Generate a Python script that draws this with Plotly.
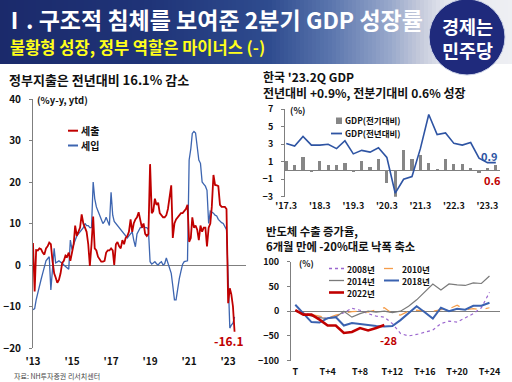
import plotly.graph_objects as go
import pandas as pd

W, H = 512, 382
FONT = "Noto Sans CJK KR"
RED = "#c00000"
BLUE = "#3d65b0"
GRAY = "#7f7f7f"

# ---------------- Left chart: 세출 / 세입 (%y-y, ytd), monthly Jan-2013 .. May-2023
spend = [
    5.3, -6.4, 3.6, 3.5, 4.0, 3.8, 3.0, 2.5, 4.0, 4.5, 5.4, 5.0,        # 2013
    1.0, -2.0, -3.0, -4.3, -3.6, -2.0, 0.5, 1.0, 2.3, 2.0, 3.0, 1.0,    # 2014
    3.0, 5.0, 9.5, 7.0, 8.0, 9.0, 12.2, 10.0, 9.0, 8.0, 5.0, -0.2,      # 2015
    5.0, 11.7, 4.0, 3.5, 2.0, 1.5, 0.8, 0.8, 1.0, 3.0, 3.5, 3.5,        # 2016
    4.0, 3.5, 0.0, 5.0, 5.5, 4.5, 4.0, 6.0, 5.0, 6.5, 7.0, 8.0,         # 2017
    11.0, 8.0, 10.0, 11.0, 11.5, 12.7, 11.0, 9.0, 10.0, 7.5, 7.0, 7.5,  # 2018
    24.3, 12.5, 13.0, 16.0, 14.5, 15.0, 12.5, 12.0, 11.5, 11.5, 12.0, 13.5,  # 2019
    16.5, 19.2, 6.5, 10.0, 11.0, 11.5, 12.0, 12.5, 12.5, 13.0, 13.5, 14.5,   # 2020
    5.6, 6.5, 11.5, 9.0, 9.5, 8.5, 6.0, 9.5, 8.0, 9.0, 9.0, 4.5,        # 2021
    9.0, 10.0, 14.0, 21.7, 19.3, 19.2, 19.0, 14.5, 14.0, 14.0, 14.0, 13.5,   # 2022
    -9.2, -5.6, -7.0, -10.0, -16.1,                                     # 2023
]
revenue = [
    -10.8, -10.5, -8.4, -6.5, -5.0, -3.5, -2.0, -0.4, 1.0, 1.5, 2.0, -6.0,   # 2013
    0.0, 4.0, 0.5, 0.8, 1.0, 0.7, 0.5, 0.0, -0.3, -0.7, -1.0, 6.0,      # 2014
    3.7, 5.0, 6.0, 7.0, 7.5, 8.0, 8.5, 9.0, 10.0, 9.5, 9.5, 9.0,        # 2015
    9.0, 20.0, 16.0, 14.0, 13.0, 12.0, 11.0, 10.0, 10.5, 11.5, 10.5, 9.5,    # 2016
    17.5, 12.0, 10.5, 10.0, 9.5, 9.0, 8.5, 8.0, 7.5, 7.0, 6.5, 7.0,     # 2017
    7.5, 8.0, 6.0, 4.4, 7.5, 8.5, 9.0, 9.0, 9.5, 9.0, 9.0, 8.5,         # 2018
    0.8, 0.2, 0.5, 0.8, 0.3, 0.0, 0.5, 0.8, 0.0, 0.3, 1.7, 0.5,         # 2019
    -0.5, -2.0, -5.0, -8.4, -8.4, -5.6, -3.3, -1.5, 0.2, 0.8, 1.0, 1.0, # 2020
    25.3, 28.0, 31.7, 32.2, 31.8, 28.5, 25.3, 24.5, 20.0, 19.5, 19.0, 18.0,  # 2021
    10.0, 13.0, 12.8, 12.5, 12.0, 11.8, 11.0, 10.5, 10.2, 10.0, 9.3, 8.5,    # 2022
    -3.0, -15.2, -14.5, -14.0, -12.5,                                   # 2023
]
months = pd.date_range("2013-01-01", periods=len(spend), freq="MS")
left_tickvals = ["2013-01-01", "2015-01-01", "2017-01-01", "2019-01-01", "2021-01-01", "2023-01-01"]
left_ticktext = ["'13", "'15", "'17", "'19", "'21", "'23"]

# ---------------- Top right: GDP (quarterly, 2017Q1 .. 2023Q2)
gdp_qoq = [1.1, 0.6, 1.5, -0.2, 1.1, 0.6, 0.6, 0.8, -0.15, 1.1, 0.45, 1.3,
           -1.4, -3.0, 2.3, 1.3, 1.8, 0.85, 0.2, 1.35, 0.7, 0.75, 0.25, -0.3, 0.3, 0.6]
gdp_yoy = [3.1, 2.8, 3.9, 2.9, 2.9, 3.0, 2.5, 3.4, 1.9, 2.3, 2.1, 2.6,
           1.5, -2.6, -1.0, -0.7, 2.5, 6.4, 4.1, 4.3, 3.1, 2.9, 3.2, 1.4, 0.9, 0.9]
quarters = list(range(len(gdp_qoq)))
gdp_tickvals = [0, 4, 8, 12, 16, 20, 24]
gdp_ticktext = ["'17.3", "'18.3", "'19.3", "'20.3", "'21.3", "'22.3", "'23.3"]

# ---------------- Bottom right: semiconductor exports growth (%)
s2008 = [0, -3, -8, -12, -15, -10, -3, 6, 2, -5, -10, -12, -25, -45, -50, -47, -42, -38, -25, -20, -22, -14, -5, 7, 38]
s2010 = [0, -3, -6, -10, -14, -8, -4, -1, 0, -2, 3, 7, -5, -8, 0, 2, 0, 0, 3, 5, 12, 3, 5, 3, 7]
s2014 = [0, -5, -10, -13, -15, -12, 0, -12, -5, 0, -2, 0, -3, 0, 10, 23, 38, 55, 43, 55, 53, 52, 57, 56, 71]
s2018 = [13, -5, -22, -23, -14, -12, -29, -24, -26, -29, -30, -31, -30, -18, -4, 10, -2, -15, 7, 0, 5, 3, 11, 11, 17]
s2022 = [2, -7, -7, -17, -29, -29, -44, -42, -34, -39, -34, -28]
semi_tickvals = [0, 4, 8, 12, 16, 20, 24]
semi_ticktext = ["T", "T+4", "T+8", "T+12", "T+16", "T+20", "T+24"]


def PX(x):
    return x / W


def PY(y):
    return 1 - y / H


fig = go.Figure()

# left chart traces
fig.add_trace(go.Scatter(x=months, y=revenue, mode="lines", name="세입",
                         line=dict(color=BLUE, width=1.3), xaxis="x", yaxis="y", showlegend=False))
fig.add_trace(go.Scatter(x=months, y=spend, mode="lines", name="세출",
                         line=dict(color=RED, width=1.8), xaxis="x", yaxis="y", showlegend=False))

# GDP
fig.add_trace(go.Bar(x=quarters, y=gdp_qoq, name="GDP(전기대비)", marker=dict(color="#868686", line=dict(width=0)),
                     width=0.38, xaxis="x2", yaxis="y2", showlegend=False))
fig.add_trace(go.Scatter(x=quarters, y=gdp_yoy, mode="lines", name="GDP(전년대비)",
                         line=dict(color="#2e54a3", width=1.6), xaxis="x2", yaxis="y2", showlegend=False))

# semiconductors
steps = list(range(len(s2008)))
fig.add_trace(go.Scatter(x=steps, y=s2008, mode="lines", name="2008년",
                         line=dict(color="#9b67cf", width=1.2, dash="dot"), xaxis="x3", yaxis="y3", showlegend=False))
fig.add_trace(go.Scatter(x=steps, y=s2010, mode="lines", name="2010년",
                         line=dict(color="#f59d4a", width=1.2, dash="dash"), xaxis="x3", yaxis="y3", showlegend=False))
fig.add_trace(go.Scatter(x=steps, y=s2014, mode="lines", name="2014년",
                         line=dict(color="#7a7a7a", width=1.2), xaxis="x3", yaxis="y3", showlegend=False))
fig.add_trace(go.Scatter(x=steps, y=s2018, mode="lines", name="2018년",
                         line=dict(color="#3a62b0", width=2), xaxis="x3", yaxis="y3", showlegend=False))
fig.add_trace(go.Scatter(x=list(range(len(s2022))), y=s2022, mode="lines", name="2022년",
                         line=dict(color=RED, width=2.6), xaxis="x3", yaxis="y3", showlegend=False))

tickfont = dict(family=FONT, size=10, color="#111111", weight="bold")
smallfont = dict(family=FONT, size=9, color="#111111", weight="bold")

ycommon = dict(showgrid=False, showline=True, linecolor=GRAY, linewidth=1, ticks="outside",
               ticklen=3, tickcolor=GRAY, zeroline=True, zerolinecolor=GRAY, zerolinewidth=1,
               fixedrange=True, automargin=False)
xcommon = dict(showgrid=False, showline=False, ticks="", zeroline=False, fixedrange=True, automargin=False)

fig.update_layout(
    width=W, height=H, autosize=False,
    margin=dict(l=0, r=0, t=0, b=0, pad=0, autoexpand=False),
    paper_bgcolor="white", plot_bgcolor="rgba(0,0,0,0)",
    showlegend=False,
    font=dict(family=FONT, color="#111111"),
    xaxis=dict(domain=[PX(33), PX(246)], anchor="y", type="date",
               range=["2013-01-01", "2023-12-01"], tickvals=left_tickvals, ticktext=left_ticktext,
               tickfont=tickfont, ticklabelstandoff=6, **xcommon),
    yaxis=dict(domain=[PY(348), PY(99)], anchor="x", range=[-20, 40], tickvals=[-20, -10, 0, 10, 20, 30, 40],
               tickfont=tickfont, ticklabelstandoff=6, **ycommon),
    xaxis2=dict(domain=[PX(285), PX(500)], anchor="y2", range=[-0.15, 25.5], tickvals=gdp_tickvals,
                ticktext=gdp_ticktext, tickfont=smallfont, ticklabelstandoff=2, **xcommon),
    yaxis2=dict(domain=[PY(196.7), PY(109.3)], anchor="x2", range=[-3, 7], tickvals=[-3, -1, 1, 3, 5, 7],
                tickfont=smallfont, ticklabelstandoff=6, **ycommon),
    xaxis3=dict(domain=[PX(291), PX(500)], anchor="y3", range=[-0.53, 25.3], tickvals=semi_tickvals,
                ticktext=semi_ticktext, tickfont=smallfont, ticklabelstandoff=4, **xcommon),
    yaxis3=dict(domain=[PY(360.7), PY(261.7)], anchor="x3", range=[-100, 100], tickvals=[-100, -50, 0, 50, 100],
                tickfont=smallfont, ticklabelstandoff=6, **ycommon),
    bargap=0,
)

shapes = []
# header gradient strips
stops = [(0, (27, 42, 107)), (150, (31, 52, 120)), (270, (47, 76, 143)), (330, (90, 117, 173)),
         (390, (152, 168, 203)), (420, (197, 202, 219)), (445, (228, 230, 238)), (512, (238, 239, 243))]


def color_at(px):
    for (a, ca), (b, cb) in zip(stops[:-1], stops[1:]):
        if a <= px <= b:
            t = (px - a) / (b - a)
            c = [round(ca[i] + (cb[i] - ca[i]) * t) for i in range(3)]
            return "rgb(%d,%d,%d)" % tuple(c)
    return "rgb(%d,%d,%d)" % stops[-1][1]


nstrip = 128
sw = W / nstrip
for i in range(nstrip):
    x0 = i * sw
    shapes.append(dict(type="rect", xref="paper", yref="paper", x0=PX(x0), x1=PX(x0 + sw + 0.6),
                       y0=PY(64), y1=1, fillcolor=color_at(x0 + sw / 2), line=dict(width=0), layer="below"))

# logo circle
shapes.append(dict(type="circle", xref="paper", yref="paper", x0=PX(467 - 38), x1=PX(467 + 38),
                   y0=PY(37 + 38), y1=PY(37 - 38), fillcolor="#1f2a7c", line=dict(color="#c9d0e6", width=1)))

# left legend samples
shapes.append(dict(type="line", xref="paper", yref="paper", x0=PX(68), x1=PX(78), y0=PY(130.7), y1=PY(130.7),
                   line=dict(color=RED, width=2)))
shapes.append(dict(type="line", xref="paper", yref="paper", x0=PX(68), x1=PX(78), y0=PY(145.5), y1=PY(145.5),
                   line=dict(color=BLUE, width=2)))
# GDP legend samples
shapes.append(dict(type="rect", xref="paper", yref="paper", x0=PX(336), x1=PX(342), y0=PY(124), y1=PY(117.5),
                   fillcolor="#868686", line=dict(width=0)))
shapes.append(dict(type="line", xref="paper", yref="paper", x0=PX(331), x1=PX(342), y0=PY(133.5), y1=PY(133.5),
                   line=dict(color="#2e54a3", width=1.8)))
# semiconductor legend samples
leg = [(329, 268.5, "#9b67cf", "dot", 1.3), (384, 268.5, "#f59d4a", "dash", 1.3),
       (329, 280.5, "#7a7a7a", "solid", 1.3), (384, 280.5, "#3a62b0", "solid", 2),
       (329, 292.5, RED, "solid", 2.6)]
for x0, y0, c, d, w in leg:
    shapes.append(dict(type="line", xref="paper", yref="paper", x0=PX(x0), x1=PX(x0 + 15), y0=PY(y0), y1=PY(y0),
                       line=dict(color=c, width=w, dash=d)))

fig.update_layout(shapes=shapes)

ann = []


def text(x, y, s, size, color="#111111", bold=True, anchor="left"):
    ann.append(dict(xref="paper", yref="paper", x=PX(x), y=PY(y), text=s, showarrow=False,
                    xanchor=anchor, yanchor="middle", align=anchor if anchor != "center" else "center",
                    font=dict(family=FONT, size=size, color=color, weight="bold" if bold else "normal")))


# header
text(1, 19, "Ⅰ. 구조적 침체를 보여준 2분기 GDP 성장률", 23, "white")
text(8, 47, "불황형 성장, 정부 역할은 마이너스 (-)", 16.5, "#ffff1a")
text(467, 38, "경제는<br>민주당", 18.5, "white", anchor="center")

# chart titles
text(7, 79, "정부지출은 전년대비 16.1% 감소", 13)
text(261, 84, "한국 '23.2Q GDP<br>전년대비 +0.9%, 전분기대비 0.6% 성장", 12)
text(264, 238.5, "반도체 수출 증가율,<br>6개월 만에 -20%대로 낙폭 축소", 11.3)

# unit labels
text(35, 100, "(%y-y, ytd)", 9.5)
text(288, 110, "(%)", 9)
text(297, 263, "(%)", 8.5)

# legends
text(79, 130.7, "세출", 10)
text(79, 145.5, "세입", 10)
text(343, 120.5, "GDP(전기대비)", 8.5)
text(343, 133.5, "GDP(전년대비)", 8.5)
text(345, 268.5, "2008년", 8.5)
text(400, 268.5, "2010년", 8.5)
text(345, 280.5, "2014년", 8.5)
text(400, 280.5, "2018년", 8.5)
text(345, 292.5, "2022년", 8.5)

# footnote
text(12, 376, "자료: NH투자증권 리서치센터", 7, "#444444", bold=False)

# data-end labels
ann.append(dict(xref="x", yref="y", x=months[-1], y=spend[-1], text="%.1f" % spend[-1], showarrow=False,
                xanchor="center", yanchor="middle", xshift=-6, yshift=-9,
                font=dict(family=FONT, size=12, color=RED, weight="bold")))
ann.append(dict(xref="x2", yref="y2", x=quarters[-1], y=gdp_yoy[-1], text="%.1f" % gdp_yoy[-1], showarrow=False,
                xanchor="center", yanchor="middle", xshift=-6, yshift=7,
                font=dict(family=FONT, size=11, color="#2e54a3", weight="bold")))
ann.append(dict(xref="x2", yref="y2", x=quarters[-1], y=gdp_qoq[-1], text="%.1f" % gdp_qoq[-1], showarrow=False,
                xanchor="center", yanchor="middle", xshift=-3, yshift=-15,
                font=dict(family=FONT, size=11, color=RED, weight="bold")))
ann.append(dict(xref="x3", yref="y3", x=len(s2022) - 1, y=s2022[-1], text="%d" % s2022[-1], showarrow=False,
                xanchor="center", yanchor="middle", xshift=4, yshift=-15,
                font=dict(family=FONT, size=11, color=RED, weight="bold")))

fig.update_layout(annotations=ann)

fig.write_html("out.html", config={"displayModeBar": False, "staticPlot": True},
               post_script="document.body.style.margin='0';document.body.style.padding='0';")
